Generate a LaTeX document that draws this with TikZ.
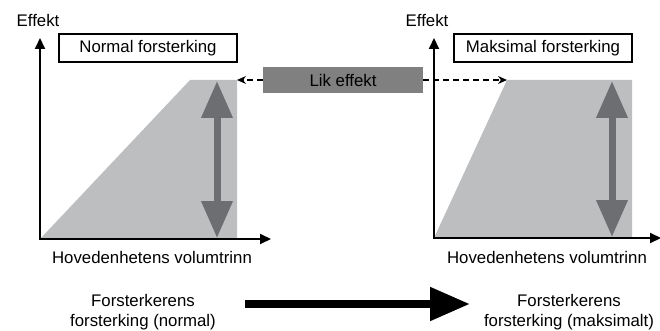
\documentclass[tikz,border=0pt]{standalone}
\usepackage{fontspec}
\setmainfont{Liberation Sans}
\usepackage{tikz}
\usetikzlibrary{positioning,arrows.meta}
\definecolor{areagray}{RGB}{188,190,192}
\definecolor{levelgray}{RGB}{109,110,113}
\definecolor{likgray}{RGB}{128,128,128}

\begin{document}
\begin{tikzpicture}[x=1pt,y=-1pt,every node/.style={font=\fontsize{16.8}{20}\selectfont,inner sep=0pt},
    titlebox/.style={draw,line width=1.5pt,minimum width=178pt,minimum height=28pt},
    axis/.style={line width=2pt,-{Triangle[length=11pt,width=10pt]}},
    level/.style={levelgray,line width=7pt,{Triangle[length=37pt,width=30pt]}-{Triangle[length=37pt,width=30pt]}},
    same/.style={dashed,dash pattern=on 6pt off 4pt,line width=1.2pt,-{Stealth[length=9pt,width=8pt]}}]
    \useasboundingbox (0,0) rectangle (660,331);
    % left chart
    \fill[areagray] (40,239) -- (190,80) -- (237,80) -- (237,239) -- cycle;
    \coordinate (ltop) at (237,80);
    \draw[level] (217,81) -- (217,238);
    \draw[axis] (40,240) -- (40,38);
    \draw[axis] (39,239) -- (271,239);
    \node (effektL) at (38,20) {Effekt};
    \node[titlebox] (boxL) at (148,48) {Normal forsterking};
    \node (volL) at (152,257) {Hovedenhetens volumtrinn};
    % right chart
    \fill[areagray] (434,238) -- (507,80) -- (632,80) -- (632,238) -- cycle;
    \coordinate (rtop) at (507,80);
    \draw[level] (612,81) -- (612,237);
    \draw[axis] (434,239) -- (434,38);
    \draw[axis] (433,238) -- (661,238);
    \node (effektR) at (427,20) {Effekt};
    \node[titlebox] (boxR) at (543,48) {Maksimal forsterking};
    \node (volR) at (547,257) {Hovedenhetens volumtrinn};
    % same output level
    \node[fill=likgray,minimum width=160pt,minimum height=26pt] (lik) at (343,80) {Lik effekt};
    \draw[same] (lik) -- (ltop);
    \draw[same] (lik) -- (rtop);
    % amplifier gain
    \node[align=center] (gainL) at (143,312) {Forsterkerens\\forsterking (normal)};
    \node[align=center] (gainR) at (569,312) {Forsterkerens\\forsterking (maksimalt)};
    \coordinate (bigS) at (245,304);
    \coordinate (bigE) at (470,304);
    \draw[line width=8pt,-{Triangle[length=40pt,width=32pt]}] (bigS) -- (bigE);
  \end{tikzpicture}
\end{document}
